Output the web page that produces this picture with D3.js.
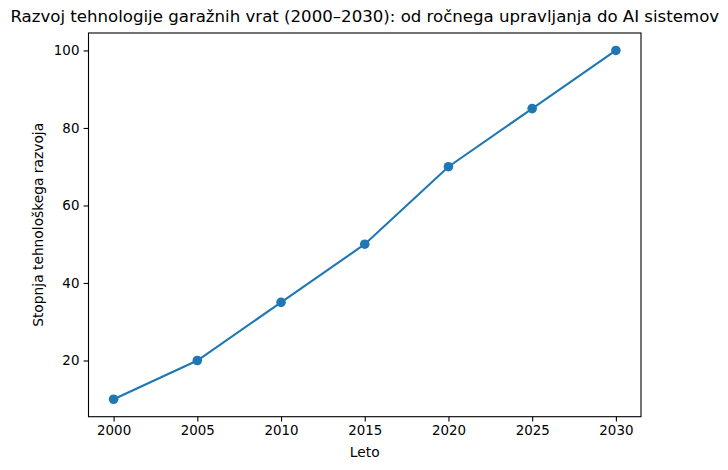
<!DOCTYPE html>
<html>
<head>
<meta charset="utf-8">
<script src="https://cdn.jsdelivr.net/npm/d3@7"></script>
<style>
  body { margin: 0; background: #fff; }
  text { font-family: "DejaVu Sans", sans-serif; fill: #000; }
</style>
</head>
<body>
<div id="chart"></div>
<script>
// data
const years = [2000, 2005, 2010, 2015, 2020, 2025, 2030];
const levels = [10, 20, 35, 50, 70, 85, 100];
const yTicks = [20, 40, 60, 80, 100];

const titleText = "Razvoj tehnologije garažnih vrat (2000–2030): od ročnega upravljanja do AI sistemov";
const xLabel = "Leto";
const yLabel = "Stopnja tehnološkega razvoja";

const width = 728, height = 470;
const margin = {top: 33, right: 87, bottom: 53.3, left: 88.5};
const innerW = width - margin.left - margin.right;
const innerH = height - margin.top - margin.bottom;
const color = "#1f77b4";

const svg = d3.select("#chart").append("svg")
    .attr("width", width)
    .attr("height", height);

const g = svg.append("g")
    .attr("transform", `translate(${margin.left},${margin.top})`);

// matplotlib-like 5% padding
const xPad = (d3.max(years) - d3.min(years)) * 0.05;
const yPad = (d3.max(levels) - d3.min(levels)) * 0.05;
const x = d3.scaleLinear()
    .domain([d3.min(years) - xPad, d3.max(years) + xPad])
    .range([0, innerW]);
const y = d3.scaleLinear()
    .domain([d3.min(levels) - yPad, d3.max(levels) + yPad])
    .range([innerH, 0]);

const xAxis = g.append("g")
    .attr("transform", `translate(0,${innerH})`)
    .call(d3.axisBottom(x).tickValues(years).tickFormat(d3.format("d"))
        .tickSize(4.9).tickPadding(4.2));
const yAxis = g.append("g")
    .call(d3.axisLeft(y).tickValues(yTicks).tickFormat(d3.format("d"))
        .tickSize(4.9).tickPadding(4.2));

[xAxis, yAxis].forEach(a => {
    a.select(".domain").remove();
    a.selectAll(".tick line").attr("stroke", "#000").attr("stroke-width", 1.1);
    a.selectAll(".tick text")
        .style("font-family", "DejaVu Sans, sans-serif")
        .style("font-size", "13.4px")
        .attr("fill", "#000");
});

// frame
g.append("rect")
    .attr("width", innerW)
    .attr("height", innerH)
    .attr("fill", "none")
    .attr("stroke", "#000")
    .attr("stroke-width", 1.1);

const pts = years.map((yr, i) => ({yr, v: levels[i]}));

g.append("path")
    .datum(pts)
    .attr("fill", "none")
    .attr("stroke", color)
    .attr("stroke-width", 2.1)
    .attr("d", d3.line().x(d => x(d.yr)).y(d => y(d.v)));

g.selectAll("circle")
    .data(pts)
    .enter()
    .append("circle")
    .attr("cx", d => x(d.yr))
    .attr("cy", d => y(d.v))
    .attr("r", 4.8)
    .attr("fill", color);

svg.append("text")
    .attr("x", margin.left + innerW / 2)
    .attr("y", 22)
    .attr("text-anchor", "middle")
    .style("font-size", "16.6px")
    .text(titleText);

svg.append("text")
    .attr("x", margin.left + innerW / 2)
    .attr("y", 457)
    .attr("text-anchor", "middle")
    .style("font-size", "13.8px")
    .text(xLabel);

svg.append("text")
    .attr("transform", `translate(42.5,${margin.top + innerH / 2}) rotate(-90)`)
    .attr("text-anchor", "middle")
    .style("font-size", "13.8px")
    .text(yLabel);
</script>
</body>
</html>
